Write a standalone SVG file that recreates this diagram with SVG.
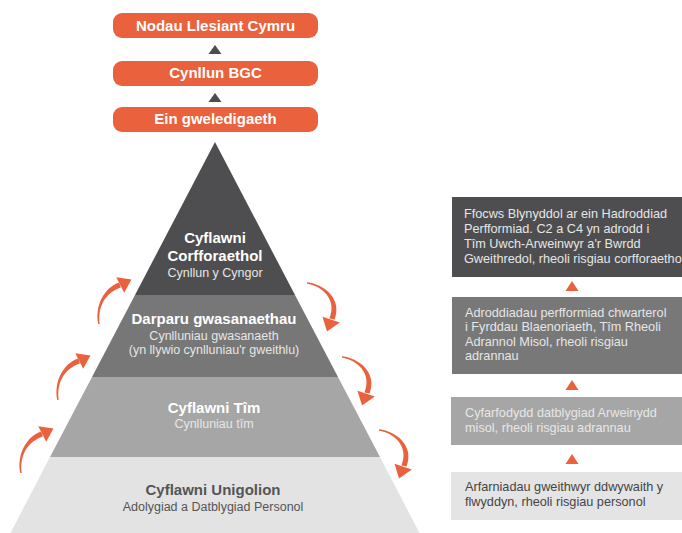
<svg xmlns="http://www.w3.org/2000/svg" width="682" height="533" viewBox="0 0 682 533">
  <style>
    text { font-family: "Liberation Sans", Arial, sans-serif; }
    .ob { fill: #e9613d; }
    .ot { fill: #ffffff; font-size: 15px; font-weight: bold; text-anchor: middle; }
    .pt { font-size: 15px; font-weight: bold; text-anchor: middle; }
    .ps { font-size: 12.5px; text-anchor: middle; }
    .rt { font-size: 12.7px; }
    .w { fill: #ffffff; }
    .lw { fill: #e6e6e6; }
    .dk { fill: #555555; }
    .arr { fill: #e9613d; }
    .dtri { fill: #4d4d4f; }
  </style>
  <defs>
    <g id="arrowUp">
      <path d="M -0.7,0 C -4.4,-18 5,-36.5 20.2,-41.6 L 21.8,-36.4 C 7,-31.5 -1.6,-18 0.7,0 Z"/>
      <polygon points="32.5,-44.5 17.3,-46.8 25.2,-31.2"/>
    </g>
    <g id="arrowDown">
      <path d="M 0,-0.7 C 17.5,1.3 35.5,16 27.6,36.6 L 22.4,35.4 C 30.5,16 14.5,2.7 0,0.7 Z"/>
      <polygon points="20,48.5 15.5,33.8 32.8,39.6"/>
    </g>
  </defs>

  <g id="nodau-llesiant">
    <rect class="ob" x="113" y="13" width="205" height="25" rx="9"/>
    <text class="ot" x="215.5" y="31">Nodau Llesiant Cymru</text>
  </g>
  <g id="cynllun-bgc">
    <rect class="ob" x="113" y="61" width="205" height="25" rx="9"/>
    <text class="ot" x="215.5" y="78">Cynllun BGC</text>
  </g>
  <g id="ein-gweledigaeth">
    <rect class="ob" x="113" y="107" width="205" height="25" rx="9"/>
    <text class="ot" x="215.5" y="124">Ein gweledigaeth</text>
  </g>

  <g id="pyramid-corfforaethol">
    <polygon points="215,142 295,295 135,295" fill="#4e4e50"/>
    <text class="pt w" x="215" y="243">Cyflawni</text>
    <text class="pt w" x="215" y="261">Corfforaethol</text>
    <text class="ps lw" x="215" y="277">Cynllun y Cyngor</text>
  </g>
  <g id="pyramid-gwasanaethau">
    <polygon points="135,295 295,295 338,377 92,377" fill="#777777"/>
    <text class="pt w" x="214" y="324">Darparu gwasanaethau</text>
    <text class="ps lw" x="214" y="340">Cynlluniau gwasanaeth</text>
    <text class="ps lw" x="214" y="354">(yn llywio cynlluniau'r gweithlu)</text>
  </g>
  <g id="pyramid-tim">
    <polygon points="92,377 338,377 380,457 50,457" fill="#a6a6a6"/>
    <text class="pt w" x="214" y="413">Cyflawni Tîm</text>
    <text class="ps lw" x="214" y="428">Cynlluniau tîm</text>
  </g>
  <g id="pyramid-unigolion">
    <polygon points="50,457 380,457 420,534 10,534" fill="#e3e3e3"/>
    <text class="pt dk" x="213" y="495">Cyflawni Unigolion</text>
    <text class="ps dk" x="213" y="511">Adolygiad a Datblygiad Personol</text>
  </g>

  <g id="box-corfforaethol">
    <rect x="452" y="197" width="240" height="80" fill="#4e4e50"/>
    <text class="rt lw" x="464" y="218">Ffocws Blynyddol ar ein Hadroddiad</text>
    <text class="rt lw" x="464" y="233">Perfformiad. C2 a C4 yn adrodd i</text>
    <text class="rt lw" x="464" y="248">Tîm Uwch-Arweinwyr a'r Bwrdd</text>
    <text class="rt lw" x="464" y="263">Gweithredol, rheoli risgiau corfforaethol</text>
  </g>
  <g id="box-gwasanaethau">
    <rect x="452" y="297" width="240" height="77" fill="#787878"/>
    <text class="rt lw" x="465" y="317">Adroddiadau perfformiad chwarterol</text>
    <text class="rt lw" x="465" y="331">i Fyrddau Blaenoriaeth, Tîm Rheoli</text>
    <text class="rt lw" x="465" y="345.5">Adrannol Misol, rheoli risgiau</text>
    <text class="rt lw" x="465" y="360">adrannau</text>
  </g>
  <g id="box-tim">
    <rect x="451" y="397" width="240" height="48" fill="#a6a6a6"/>
    <text class="rt lw" x="465" y="417">Cyfarfodydd datblygiad Arweinydd</text>
    <text class="rt lw" x="465" y="432">misol, rheoli risgiau adrannau</text>
  </g>
  <g id="box-unigolion">
    <rect x="451" y="472" width="240" height="48" fill="#e4e4e4"/>
    <text class="rt" fill="#444444" x="465" y="491">Arfarniadau gweithwyr ddwywaith y</text>
    <text class="rt" fill="#444444" x="465" y="506">flwyddyn, rheoli risgiau personol</text>
  </g>

  <g id="connectors">
    <polygon class="dtri" points="215,45 221.5,54 208.5,54"/>
    <polygon class="dtri" points="215,93 221.5,102 208.5,102"/>
    <polygon class="arr" points="572,281 578.5,291 565.5,291"/>
    <polygon class="arr" points="572,380 578.5,390 565.5,390"/>
    <polygon class="arr" points="572,454 578.5,464 565.5,464"/>
    <use href="#arrowUp" class="arr" transform="translate(99,324)"/>
    <use href="#arrowUp" class="arr" transform="translate(58,400)"/>
    <use href="#arrowUp" class="arr" transform="translate(21,473)"/>
    <use href="#arrowDown" class="arr" transform="translate(307,283)"/>
    <use href="#arrowDown" class="arr" transform="translate(342,357)"/>
    <use href="#arrowDown" class="arr" transform="translate(379,430)"/>
  </g>
</svg>
